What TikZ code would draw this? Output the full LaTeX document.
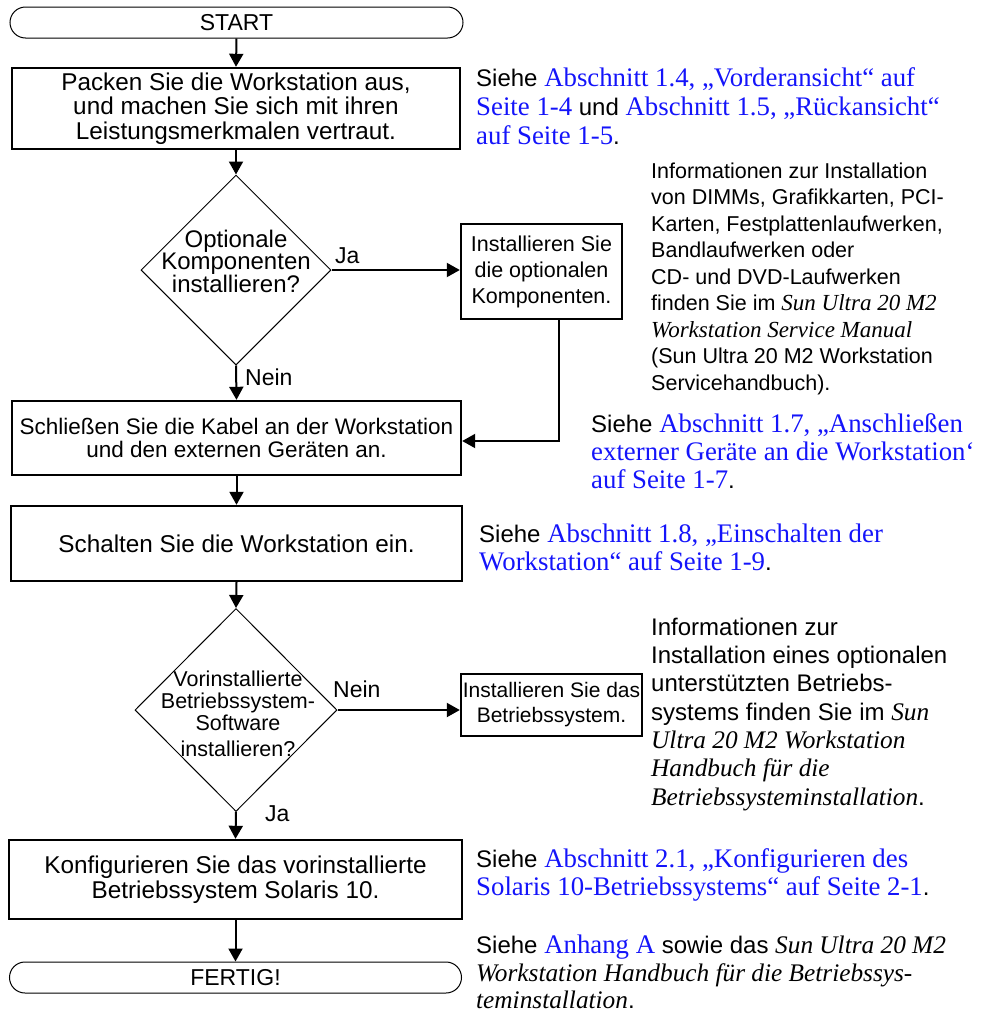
\documentclass[tikz,border=0pt]{standalone}
\usepackage{fontspec}
\usetikzlibrary{shapes.geometric,arrows.meta}
\newfontfamily\sansf{Liberation Sans}
\newfontfamily\seriff{Liberation Serif}
\definecolor{linkblue}{RGB}{20,20,250}
\newcommand{\lk}[1]{{\seriff\fontsize{26.8}{28}\selectfont\color{linkblue}#1}}
\newcommand{\bi}[1]{{\seriff\itshape\fontsize{25.3}{28}\selectfont #1}}
\newcommand{\bis}[1]{{\seriff\itshape\fontsize{23}{26}\selectfont #1}}
\begin{document}
\begin{tikzpicture}[x=1pt,y=-1pt,
  term/.style={draw, line width=1pt, rounded corners=15.5pt, inner sep=0,
    font=\sansf\fontsize{23}{25}\selectfont},
  proc/.style={draw, line width=2.4pt, inner sep=0, align=center,
    font=\sansf\fontsize{24.3}{24.5}\selectfont},
  sproc/.style={draw, line width=2.4pt, inner sep=0, align=center,
    font=\sansf\fontsize{21.5}{26}\selectfont},
  dec/.style={draw, diamond, aspect=1, line width=1pt, inner sep=0},
  dtext/.style={align=center, inner sep=0},
  lbl/.style={anchor=base west, inner sep=0, font=\sansf\fontsize{23}{24}\selectfont},
  arr/.style={line width=2pt, -{Triangle[length=13pt,width=14pt]}},
  rt/.style={anchor=base west, inner sep=0, font=\sansf\fontsize{24}{28}\selectfont},
  rtb/.style={anchor=base west, inner sep=0, font=\sansf\fontsize{21.5}{26}\selectfont}]
\useasboundingbox (0,0) rectangle (981,1015);

% flow nodes
\node[term, minimum width=453pt, minimum height=31pt] (start) at (236.5,22.5) {START};
\node[proc, minimum width=448pt, minimum height=81pt] (b1) at (236,108.5)
  {Packen Sie die Workstation aus,\\ und machen Sie sich mit ihren\\ Leistungsmerkmalen vertraut.};
\node[dec, minimum width=190pt, minimum height=190pt] (d1) at (236,270) {};
\node[dtext, font=\sansf\fontsize{24}{22.5}\selectfont] (d1t) at (236,261)
  {Optionale\\ Komponenten\\ installieren?};
\node[sproc, minimum width=161pt, minimum height=95pt] (s1) at (541.5,271.5)
  {Installieren Sie\\ die optionalen\\ Komponenten.};
\node[proc, font=\sansf\fontsize{22.5}{23.5}\selectfont, minimum width=449pt, minimum height=74pt] (b2) at (236.5,438)
  {Schließen Sie die Kabel an der Workstation\\ und den externen Geräten an.};
\node[proc, minimum width=451pt, minimum height=75pt] (b3) at (236.5,543.5)
  {Schalten Sie die Workstation ein.};
\node[dec, minimum width=202pt, minimum height=203pt] (d2) at (236,710) {};
\node[dtext, font=\sansf\fontsize{21.5}{22}\selectfont] (d2t) at (238,714)
  {Vorinstallierte\\ Betriebssystem-\\ Software\\[4pt] installieren?};
\node[sproc, font=\sansf\fontsize{21}{25}\selectfont, minimum width=181pt, minimum height=62pt] (s2) at (551.5,705)
  {Installieren Sie das\\ Betriebssystem.};
\node[proc, minimum width=453pt, minimum height=79pt] (b5) at (235.5,879.5)
  {Konfigurieren Sie das vorinstallierte\\ Betriebssystem Solaris 10.};
\node[term, minimum width=452pt, minimum height=31pt] (end) at (235.5,977.5) {FERTIG!};

% labels
\node[lbl] (ja1) at (335,263) {Ja};
\node[lbl] (nein1) at (245,385) {Nein};
\node[lbl] (nein2) at (333,697) {Nein};
\node[lbl] (ja2) at (265,821) {Ja};

% connectors
\coordinate (c1) at (559,441);
\draw[arr] (start.south) -- (b1.north);
\draw[arr] (b1.south) -- (d1.north);
\draw[arr] (d1.east) -- (s1.west |- d1.east);
\draw[arr] (d1.south) -- (b2.north);
\draw[arr] (s1.south -| c1) -- (c1) -- (b2.east |- c1);
\draw[arr] (b2.south) -- (b3.north);
\draw[arr] (b3.south) -- (d2.north);
\draw[arr] (d2.east) -- (s2.west |- d2.east);
\draw[arr] (d2.south) -- (b5.north);
\draw[arr] (b5.south) -- (end.north);

% right-side texts
\node[rt] (a1) at (476,86) {Siehe \lk{Abschnitt 1.4, „Vorderansicht“ auf}};
\node[rt] (a2) at (476,115) {\lk{Seite 1-4} und \lk{Abschnitt 1.5, „Rückansicht“}};
\node[rt] (a3) at (476,144) {\lk{auf Seite 1-5}.};

\node[rtb] (i1) at (651,178) {Informationen zur Installation};
\node[rtb] (i2) at (651,204.5) {von DIMMs, Grafikkarten, PCI-};
\node[rtb] (i3) at (651,231) {Karten, Festplattenlaufwerken,};
\node[rtb] (i4) at (651,257.5) {Bandlaufwerken oder};
\node[rtb] (i5) at (651,284) {CD- und DVD-Laufwerken};
\node[rtb] (i6) at (651,310.5) {finden Sie im \bis{Sun Ultra 20 M2}};
\node[rtb] (i7) at (651,337) {\bis{Workstation Service Manual}};
\node[rtb] (i8) at (651,363.5) {(Sun Ultra 20 M2 Workstation};
\node[rtb] (i9) at (651,390) {Servicehandbuch).};

\node[rt] (c71) at (591,432) {Siehe \lk{Abschnitt 1.7, „Anschließen}};
\node[rt] (c72) at (591,460) {\lk{externer Geräte an die Workstation‘}};
\node[rt] (c73) at (591,488) {\lk{auf Seite 1-7}.};

\node[rt] (e81) at (479,542) {Siehe \lk{Abschnitt 1.8, „Einschalten der}};
\node[rt] (e82) at (479,570) {\lk{Workstation“ auf Seite 1-9}.};

\node[rt] (o1) at (651,635) {Informationen zur};
\node[rt] (o2) at (651,663.3) {Installation eines optionalen};
\node[rt] (o3) at (651,691.7) {unterstützten Betriebs-};
\node[rt] (o4) at (651,720) {systems finden Sie im \bi{Sun}};
\node[rt] (o5) at (651,748.3) {\bi{Ultra 20 M2 Workstation}};
\node[rt] (o6) at (651,776.7) {\bi{Handbuch für die}};
\node[rt] (o7) at (651,805) {\bi{Betriebssysteminstallation}.};

\node[rt] (k1) at (476,867) {Siehe \lk{Abschnitt 2.1, „Konfigurieren des}};
\node[rt] (k2) at (476,895) {\lk{Solaris 10-Betriebssystems“ auf Seite 2-1}.};

\node[rt] (g1) at (476,953) {Siehe \lk{Anhang A} sowie das \bi{Sun Ultra 20 M2}};
\node[rt] (g2) at (476,981) {\bi{Workstation Handbuch für die Betriebssys-}};
\node[rt] (g3) at (476,1008) {\bi{teminstallation}.};
\end{tikzpicture}
\end{document}
